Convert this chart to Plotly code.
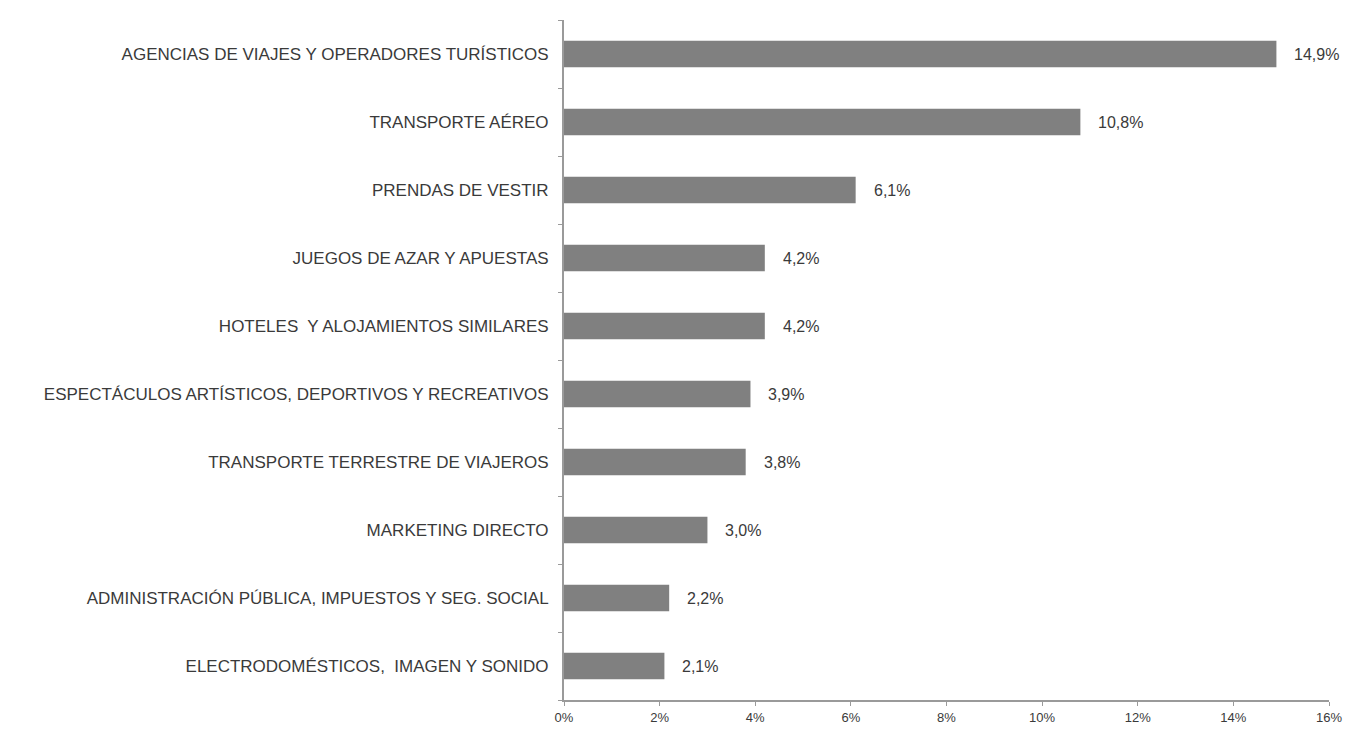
import plotly.graph_objects as go

categories = [
    "AGENCIAS DE VIAJES Y OPERADORES TURÍSTICOS",
    "TRANSPORTE AÉREO",
    "PRENDAS DE VESTIR",
    "JUEGOS DE AZAR Y APUESTAS",
    "HOTELES  Y ALOJAMIENTOS SIMILARES",
    "ESPECTÁCULOS ARTÍSTICOS, DEPORTIVOS Y RECREATIVOS",
    "TRANSPORTE TERRESTRE DE VIAJEROS",
    "MARKETING DIRECTO",
    "ADMINISTRACIÓN PÚBLICA, IMPUESTOS Y SEG. SOCIAL",
    "ELECTRODOMÉSTICOS,  IMAGEN Y SONIDO",
]
values = [14.9, 10.8, 6.1, 4.2, 4.2, 3.9, 3.8, 3.0, 2.2, 2.1]
x_ticks = [0, 2, 4, 6, 8, 10, 12, 14, 16]
x_tick_labels = [f"{t}%" for t in x_ticks]

font_family = "Liberation Sans, Arial, sans-serif"
text_color = "#3a3a3a"
axis_color = "#9a9a9a"

fig = go.Figure(
    go.Bar(
        x=values,
        y=categories,
        orientation="h",
        marker=dict(color="#808080", line=dict(width=0)),
        width=0.39,
        hoverinfo="x+y",
    )
)

# value labels placed just past the end of each bar
for cat, v in zip(categories, values):
    fig.add_annotation(
        x=v,
        y=cat,
        xref="x",
        yref="y",
        text=f"{v:.1f}%".replace(".", ","),
        showarrow=False,
        xanchor="left",
        yanchor="middle",
        xshift=16,
        font=dict(size=16, color=text_color, family=font_family),
    )

fig.update_layout(
    width=1347,
    height=729,
    margin=dict(l=564, r=18, t=20, b=29),
    plot_bgcolor="white",
    paper_bgcolor="white",
    showlegend=False,
    font=dict(family=font_family, size=17, color=text_color),
)

fig.update_xaxes(
    range=[0, 16],
    tickvals=x_ticks,
    ticktext=x_tick_labels,
    showgrid=False,
    zeroline=False,
    showline=True,
    linecolor=axis_color,
    linewidth=2,
    ticks="outside",
    ticklen=4,
    tickcolor=axis_color,
    tickfont=dict(size=13, color=text_color, family=font_family),
    automargin=False,
)

fig.update_yaxes(
    categoryorder="array",
    categoryarray=categories[::-1],
    autorange=False,
    range=[-0.5, len(categories) - 0.5],
    showgrid=False,
    zeroline=False,
    showline=True,
    linecolor=axis_color,
    linewidth=2,
    ticks="outside",
    tickson="boundaries",
    ticklen=4,
    tickcolor=axis_color,
    tickfont=dict(size=17, color=text_color, family=font_family),
    ticklabelstandoff=10,
    automargin=False,
)

fig.write_html("out.html")
